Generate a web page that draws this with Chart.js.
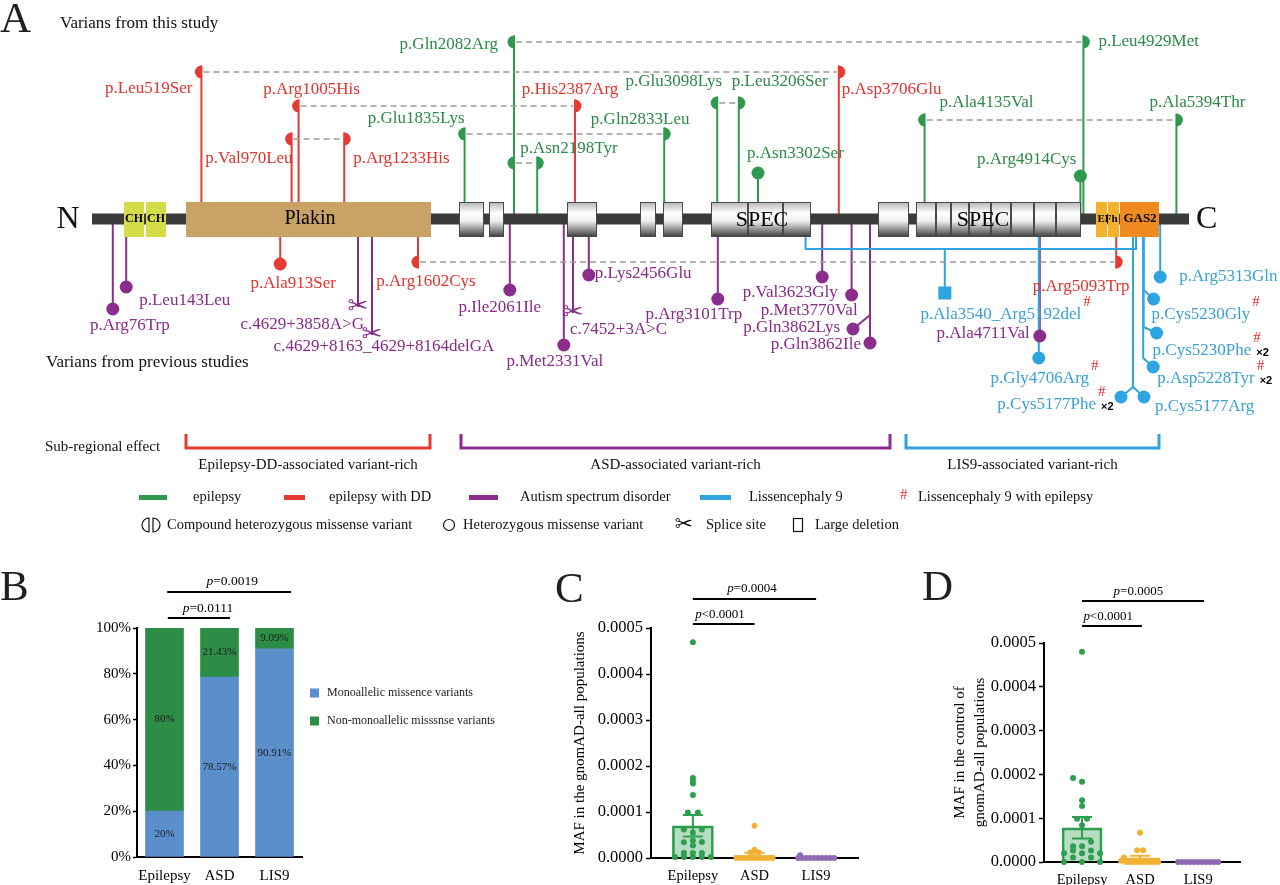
<!DOCTYPE html>
<html>
<head>
<meta charset="utf-8">
<title>MACF1 variants</title>
<script src="https://cdn.jsdelivr.net/npm/chart.js@4.4.1/dist/chart.umd.min.js"></script>
<style>
  html, body { margin:0; padding:0; background:#ffffff; }
  #wrap { position:relative; width:1280px; height:885px; overflow:hidden; background:#fff; }
  canvas { position:absolute; display:block; }
</style>
</head>
<body>
<div id="wrap">
  <canvas id="chartA" width="1280" height="545" style="left:0;top:0;"></canvas>
  <canvas id="chartB" width="520" height="340" style="left:0;top:545px;"></canvas>
  <canvas id="chartC" width="360" height="340" style="left:540px;top:545px;"></canvas>
  <canvas id="chartD" width="380" height="340" style="left:900px;top:545px;"></canvas>
</div>
<script>
// ======================= DATA =======================
// ---- Panel A: protein map (amino-acid positions) ----
const aaAxis = [-488, 5912];
const backbone = [-28, 5457];
const domainKind  = ['ch','ch','plakin','spec','spec','spec','spec','spec','spec','spec','spec','spec','spec','spec','spec','spec','spec','spec','spec','spec','efh','efh','gas2'];
const domainStart = [132,242,442,1807,1957,2347,2712,2827,3067,3252,3427,3902,4092,4192,4267,4357,4467,4567,4682,4792,4992,5052,5112];
const domainEnd   = [232,342,1667,1932,2032,2497,2792,2927,3252,3427,3567,4057,4192,4267,4357,4467,4567,4682,4792,4917,5047,5107,5307];
const domainText   = ['CH','CH','Plakin','SPEC','SPEC','EFh','GAS2'];
const domainTextAt = [182,292,1062,3322,4427,5050,5212];

const varLabels = [
 'p.Leu519Ser','p.Asp3706Glu','p.Arg1005His','p.His2387Arg','p.Val970Leu','p.Arg1233His',
 'p.Gln2082Arg','p.Leu4929Met','p.Glu1835Lys','p.Gln2833Leu','p.Asn2198Tyr','p.Glu3098Lys','p.Leu3206Ser',
 'p.Asn3302Ser','p.Ala4135Val','p.Ala5394Thr','p.Arg4914Cys',
 'p.Arg76Trp','p.Leu143Leu','p.Ala913Ser','c.4629+3858A>G','c.4629+8163_4629+8164delGA','p.Arg1602Cys',
 'p.Ile2061Ile','p.Met2331Val','c.7452+3A>C','p.Lys2456Glu','p.Arg3101Trp','p.Val3623Gly','p.Met3770Val',
 'p.Gln3862Lys','p.Gln3862Ile','p.Arg5093Trp','p.Ala4711Val','p.Gly4706Arg','p.Cys5177Phe','p.Cys5177Arg',
 'p.Asp5228Tyr','p.Cys5230Phe','p.Cys5230Gly','p.Arg5313Gln'];
const varPos = [519,3706,1005,2387,970,1233,2082,4929,1835,2833,2198,3098,3206,3302,4135,5394,4914,
 76,143,913,1302,1372,1602,2061,2331,2377,2456,3101,3623,3770,3862,3862,5093,4711,4706,5177,5177,5228,5230,5230,5313];
const varGroup = ['dd','dd','dd','dd','dd','dd','epi','epi','epi','epi','epi','epi','epi','epi','epi','epi','epi',
 'asd','asd','dd','asd','asd','dd','asd','asd','asd','asd','asd','asd','asd','asd','asd','dd','asd','lis','lis','lis','lis','lis','lis','lis'];
const varKind = ['comp','comp','comp','comp','comp','comp','comp','comp','comp','comp','comp','comp','comp','het','comp','comp','het',
 'het','het','het','splice','splice','comp','het','het','splice','het','het','het','het','het','het','comp','het','het','het','het','het','het','het','het'];
const varSide = varLabels.map((t,i)=> i < 17 ? 'up' : 'down');
const varHash   = varLabels.map((t,i)=> [34,35,37,38,39].includes(i));
const varTimes2 = varLabels.map((t,i)=> [35,37,38].includes(i));

// compound-heterozygous pairs (index of first / second allele)
const compA = [0,2,4,6,8,6,11,14,22];
const compB = [1,3,5,7,9,10,12,15,32];

const delLabels = ['p.Ala3540_Arg5192del'];
const delStart = [3540];
const delEnd = [5192];

const regionNames = ['Epilepsy-DD-associated variant-rich','ASD-associated variant-rich','LIS9-associated variant-rich'];
const regionStart = [442,1817,4042];
const regionEnd   = [1662,3962,5307];
const regionGroup = ['dd','asd','lis'];

const diseaseNames = ['epilepsy','epilepsy with DD','Autism spectrum disorder','Lissencephaly 9','Lissencephaly 9 with epilepsy'];
const diseaseKeys  = ['epi','dd','asd','lis','hash'];
const markerNames  = ['Compound heterozygous missense variant','Heterozygous missense variant','Splice site','Large deletion'];

// ---- Panel B ----
const bCategories = ['Epilepsy','ASD','LIS9'];
const bMonoallelic = [20, 78.57, 90.91];
const bNonMonoallelic = [80, 21.43, 9.09];
const bSeries = ['Monoallelic missence variants','Non-monoallelic misssnse variants'];
const bPvalues = ['=0.0111','=0.0019'];
const bYTicks = [0,20,40,60,80,100];

// ---- Panel C ----
const cGroups = ['Epilepsy','ASD','LIS9'];
const cMean = [0.0000700, 0.0000055, 0.0000006];
const cSem  = [0.0000235, 0.0000060, 0.0000005];
const cEpilepsy = [0.000469,0.000174,0.000168,0.000162,0.000137,0.000099,0.000099,0.000062,0.000062,0.000055,0.000038,0.000034,0.000035,0.000027,0.000011,0.000011,0.000011,0.000002,0.000002,0.000002,0.000002,0.000002];
const cASD = [0.000070,0.000018,0.000012,0.000012,0,0,0,0,0,0,0,0,0,0];
const cLIS9 = [0.000006,0,0,0,0,0,0,0,0,0,0];
const cPvalues = ['<0.0001','=0.0004'];
const cTitle = 'MAF in the gnomAD-all populations';
const mafTicks = [0,0.0001,0.0002,0.0003,0.0004,0.0005];

// ---- Panel D ----
const dGroups = ['Epilepsy','ASD','LIS9'];
const dMean = [0.0000780, 0.0000095, 0];
const dSem  = [0.0000245, 0.0000045, 0];
const dEpilepsy = [0.000480,0.000192,0.000183,0.000141,0.000128,0.000099,0.000099,0.000084,0.000046,0.000036,0.000036,0.000026,0.000026,0.000020,0.000020,0.000020,0.000010,0.000010,0,0,0];
const dASD = [0.000067,0.000027,0.000027,0.000010,0.000003,0,0,0,0,0,0,0,0,0];
const dLIS9 = [0,0,0,0,0,0,0,0,0,0,0];
const dPvalues = ['<0.0001','=0.0005'];
const dTitle = ['MAF in the control of','gnomAD-all populations'];

// ======================= LAYOUT / STYLE =======================
const SERIF = '"Liberation Serif", "Times New Roman", serif';
Chart.defaults.font.family = SERIF;
Chart.defaults.color = '#000';

const groupStyle = {
  epi:{stem:'#2f9a4f', text:'#2b8a47'},
  dd: {stem:'#e63b35', text:'#e2332d'},
  asd:{stem:'#8a2d8d', text:'#8a2a8a'},
  lis:{stem:'#2ea5e0', text:'#3aa0d6'}
};
const domainFill = {ch:'#d5dc48', plakin:'#c9a266', efh:'#f4b12c', gas2:'#ef8a21'};
const R = 6.5;
const LAY = { backboneY:219, domTop:202, domBot:237, delBracketY:249, delTip:293, delDx:-26, delLabelDx:56, delLabelY:315 };
const compY = [72,106,139,42,134,163,103,120,262];
const layTip = [null,null,null,null,null,null,null,null,null,null,null,null,null,173,null,null,176,
 309,287,264,307,335,null,290,345,313,275,299,277,295,329,343,null,336,358,397,397,367,333,299,277];
const layBend = varLabels.map((t,i)=>({30:315,35:387,36:387,37:358,38:327,39:290})[i] ?? null);
const layDotDx = varLabels.map((t,i)=>({30:-17,35:-12,36:11,37:10,38:13,39:10})[i] ?? 0);
const layLabelDx = [-9,3,13,-5,1,9,-16,15,0,-24,-17,5,-7,-11,15,21,-4,
 17,13,13,6,12,8,-10,-9,-3,6,-24,-32,6,-30,-9,-35,-10,1,-37,22,14,9,8,19];
const layLabelY = [89,90,90,90,159,159,45,42,119,120,149,82,82,154,103,103,160,
 326,301,284,325,347,282,308,362,330,274,315,293,311,328,345,287,334,379,405,407,379,351,315,277];
const layLabelAlign = ['right','left','center','center','right','left','right','left','right','center','left','right','left','left','left','center','right',
 'center','left','center','right','center','center','center','center','left','left','center','center','right','right','right','center','right','center','right','left','left','left','left','left'];

// ======================= HELPERS =======================
function half(ctx,x,y,r,side,color){
  ctx.beginPath();
  if (side < 0) ctx.arc(x,y,r,Math.PI/2,Math.PI*1.5); else ctx.arc(x,y,r,-Math.PI/2,Math.PI/2);
  ctx.closePath(); ctx.fillStyle=color; ctx.fill();
}
function scissors(ctx,x,y,color,size){
  ctx.save(); ctx.font = size+'px "DejaVu Sans"'; ctx.fillStyle=color; ctx.textAlign='center'; ctx.textBaseline='middle';
  ctx.fillText('\u2702',x,y); ctx.restore();
}
function drawLabel(ctx,text,x,y,align,color,hash,times2){
  ctx.font = '17px '+SERIF; ctx.fillStyle=color; ctx.textAlign=align; ctx.textBaseline='middle';
  ctx.fillText(text,x,y);
  const w = ctx.measureText(text).width;
  const right = align==='left' ? x+w : (align==='right' ? x : x+w/2);
  ctx.textAlign='left';
  if (hash){ ctx.font='15px '+SERIF; ctx.fillStyle='#e8262b'; ctx.fillText('#', right+2, y-13); }
  if (times2){ ctx.font='bold 11px "Liberation Sans", Arial'; ctx.fillStyle='#000'; ctx.fillText('\u00d72', right+5, y+2); }
}
function pText(ctx,str,cx,y,size){
  ctx.textBaseline='middle'; ctx.textAlign='left'; ctx.fillStyle='#000';
  ctx.font='italic '+size+'px '+SERIF; const w1=ctx.measureText('p').width;
  ctx.font=size+'px '+SERIF; const w2=ctx.measureText(str).width;
  const x0 = cx-(w1+w2)/2;
  ctx.font='italic '+size+'px '+SERIF; ctx.fillText('p',x0,y);
  ctx.font=size+'px '+SERIF; ctx.fillText(str,x0+w1,y);
}
function panelLetter(ctx,ch,x,y){ ctx.save(); ctx.font='43px '+SERIF; ctx.fillStyle='#231f20'; ctx.textAlign='left'; ctx.textBaseline='alphabetic'; ctx.fillText(ch,x,y); ctx.restore(); }
function markersOf(i){
  const m=[];
  compA.forEach((a,k)=>{ if(a===i) m.push({y:compY[k],kind:'halfL'}); if(compB[k]===i) m.push({y:compY[k],kind:'halfR'}); });
  if (varKind[i]==='het' || varKind[i]==='splice') m.push({y:layTip[i],kind:varKind[i]});
  return m;
}

// ======================= PANEL A =======================
const canvasA = document.getElementById('chartA');
const AA_PER_PX = (aaAxis[1]-aaAxis[0]) / canvasA.width;
const hetIdx = varKind.map((k,i)=>k==='het'?i:-1).filter(i=>i>=0);

const proteinPlugin = {
  id:'proteinMap',
  beforeDatasetsDraw(chart){
    const ctx=chart.ctx, X=v=>chart.scales.x.getPixelForValue(v), Y=v=>chart.scales.y.getPixelForValue(v);
    ctx.save();
    const base = Y(LAY.backboneY);
    ctx.lineWidth=2; ctx.lineCap='butt';
    varLabels.forEach((t,i)=>{
      const sx=X(varPos[i]);
      ctx.strokeStyle=groupStyle[varGroup[i]].stem;
      ctx.beginPath(); ctx.moveTo(sx,base);
      if (layBend[i]!=null){ ctx.lineTo(sx,Y(layBend[i])); ctx.lineTo(sx+layDotDx[i],Y(layTip[i])); }
      else {
        let end=base;
        markersOf(i).forEach(m=>{ const yy=Y(m.y), ext=m.kind.startsWith('half')?R:0;
          end = varSide[i]==='up' ? Math.min(end,yy-ext) : Math.max(end,yy+ext); });
        ctx.lineTo(sx,end);
      }
      ctx.stroke();
    });
    // large deletion bracket
    delStart.forEach((s,k)=>{
      const x0=X(s), x1=X(delEnd[k]), yb=Y(LAY.delBracketY);
      const xm=X((s+delEnd[k])/2)+LAY.delDx;
      ctx.strokeStyle=groupStyle.lis.stem; ctx.lineWidth=2;
      ctx.beginPath(); ctx.moveTo(x0,base); ctx.lineTo(x0,yb); ctx.lineTo(x1,yb); ctx.lineTo(x1,base); ctx.stroke();
      ctx.beginPath(); ctx.moveTo(xm,yb); ctx.lineTo(xm,Y(LAY.delTip)); ctx.stroke();
    });
    // dashed links between compound alleles
    ctx.setLineDash([6,4]); ctx.strokeStyle='#9b9b9b'; ctx.lineWidth=1.5;
    compA.forEach((a,k)=>{ const y=Y(compY[k]); ctx.beginPath(); ctx.moveTo(X(varPos[a])+2,y); ctx.lineTo(X(varPos[compB[k]])-2,y); ctx.stroke(); });
    ctx.setLineDash([]);
    // backbone
    ctx.fillStyle='#3b3b3b';
    ctx.fillRect(X(backbone[0]),base-5.5,X(backbone[1])-X(backbone[0]),11);
    // domains
    const top=Y(LAY.domTop), bot=Y(LAY.domBot);
    domainKind.forEach((k,j)=>{
      const x0=X(domainStart[j]), x1=X(domainEnd[j]);
      if (k==='spec'){
        const g=ctx.createLinearGradient(0,top,0,bot);
        g.addColorStop(0,'#b4b4b4'); g.addColorStop(0.32,'#ffffff'); g.addColorStop(0.55,'#eeeeee'); g.addColorStop(1,'#3a3a3a');
        ctx.fillStyle=g; ctx.fillRect(x0,top,x1-x0,bot-top);
        ctx.strokeStyle='#4a4a4a'; ctx.lineWidth=1; ctx.strokeRect(x0+0.5,top+0.5,x1-x0-1,bot-top-1);
      } else {
        ctx.fillStyle=domainFill[k]; ctx.fillRect(x0,top,x1-x0,bot-top);
      }
    });
    ctx.fillStyle='#000'; ctx.textAlign='center'; ctx.textBaseline='middle';
    const fonts={CH:'bold 12px '+SERIF, Plakin:'20px '+SERIF, SPEC:'22px '+SERIF, EFh:'bold 11px '+SERIF, GAS2:'bold 13px '+SERIF};
    domainText.forEach((t,j)=>{ ctx.font=fonts[t]; ctx.fillText(t,X(domainTextAt[j]),base+(t==='SPEC'?1:0)); });
    ctx.restore();
  },
  afterDatasetsDraw(chart){
    const ctx=chart.ctx, X=v=>chart.scales.x.getPixelForValue(v), Y=v=>chart.scales.y.getPixelForValue(v);
    ctx.save();
    compA.forEach((a,k)=>{ const y=Y(compY[k]);
      half(ctx,X(varPos[a]),y,R,-1,groupStyle[varGroup[a]].stem);
      half(ctx,X(varPos[compB[k]]),y,R,1,groupStyle[varGroup[compB[k]]].stem); });
    varKind.forEach((k,i)=>{ if(k==='splice') scissors(ctx,X(varPos[i]),Y(layTip[i]),groupStyle[varGroup[i]].stem,25); });
    varLabels.forEach((t,i)=>{ drawLabel(ctx,t,X(varPos[i])+layLabelDx[i],Y(layLabelY[i]),layLabelAlign[i],groupStyle[varGroup[i]].text,varHash[i],varTimes2[i]); });
    delLabels.forEach((t,k)=>{ const xm=X((delStart[k]+delEnd[k])/2)+LAY.delDx;
      drawLabel(ctx,t,xm+LAY.delLabelDx,Y(LAY.delLabelY),'center',groupStyle.lis.text,true,false); });
    // headings
    panelLetter(ctx,'A',0,32);
    ctx.fillStyle='#111'; ctx.textAlign='left'; ctx.textBaseline='middle';
    ctx.font='17px '+SERIF; ctx.fillText('Varians from this study',60,24);
    ctx.fillText('Varians from previous studies',46,363);
    ctx.font='32px '+SERIF; ctx.textAlign='center'; ctx.fillText('N',68,220);
    ctx.textAlign='left'; ctx.fillText('C',1196,220);
    // sub-regional effect
    ctx.font='15px '+SERIF; ctx.fillStyle='#111'; ctx.fillText('Sub-regional effect',45,447);
    regionNames.forEach((n,k)=>{
      const x0=X(regionStart[k]), x1=X(regionEnd[k]);
      ctx.strokeStyle=groupStyle[regionGroup[k]].stem; ctx.lineWidth=3;
      ctx.beginPath(); ctx.moveTo(x0,434); ctx.lineTo(x0,448); ctx.lineTo(x1,448); ctx.lineTo(x1,434); ctx.stroke();
      ctx.fillStyle='#111'; ctx.textAlign='center'; ctx.font='15px '+SERIF; ctx.fillText(n,(x0+x1)/2,465);
    });
    // legend row 1
    const lx=[139,284,469,700,900], lw=[28,21,29,31,0], tx=[193,329,520,749,918];
    ctx.textAlign='left'; ctx.font='14.5px '+SERIF;
    diseaseNames.forEach((n,k)=>{
      if (diseaseKeys[k]==='hash'){ ctx.fillStyle='#e8262b'; ctx.font='15px '+SERIF; ctx.fillText('#',lx[k],495); ctx.font='14.5px '+SERIF; }
      else { ctx.fillStyle=groupStyle[diseaseKeys[k]].stem; ctx.fillRect(lx[k],495,lw[k],5); }
      ctx.fillStyle='#111'; ctx.fillText(n,tx[k],497);
    });
    // legend row 2
    const y2=525; ctx.strokeStyle='#111'; ctx.lineWidth=1.2;
    ctx.beginPath(); ctx.arc(149,y2,7,Math.PI/2,Math.PI*1.5); ctx.closePath(); ctx.stroke();
    ctx.beginPath(); ctx.arc(153,y2,7,-Math.PI/2,Math.PI/2); ctx.closePath(); ctx.stroke();
    ctx.beginPath(); ctx.arc(449,y2,5.5,0,Math.PI*2); ctx.stroke();
    scissors(ctx,684,y2,'#111',22);
    ctx.strokeRect(793.5,y2-6.5,9,13);
    const mx=[167,463,706,815];
    ctx.fillStyle='#111'; ctx.font='14.5px '+SERIF; ctx.textAlign='left';
    markerNames.forEach((n,k)=>ctx.fillText(n,mx[k],y2));
    ctx.restore();
  }
};

new Chart(canvasA,{
  type:'scatter',
  data:{datasets:[
    {label:'Heterozygous missense variant', data:hetIdx.map(i=>({x:varPos[i]+layDotDx[i]*AA_PER_PX, y:layTip[i]})),
     pointRadius:6.5, pointHoverRadius:6.5, pointBackgroundColor:hetIdx.map(i=>groupStyle[varGroup[i]].stem), pointBorderWidth:0, clip:false},
    {label:'Large deletion', data:delStart.map((s,k)=>({x:(s+delEnd[k])/2+LAY.delDx*AA_PER_PX, y:LAY.delTip})),
     pointStyle:'rect', pointRadius:9.2, pointHoverRadius:9.2, pointBackgroundColor:groupStyle.lis.stem, pointBorderWidth:0, clip:false}
  ]},
  options:{responsive:false, animation:false, devicePixelRatio:1, events:[], layout:{padding:0, autoPadding:false},
    plugins:{legend:{display:false}, tooltip:{enabled:false}},
    scales:{x:{type:'linear',min:aaAxis[0],max:aaAxis[1],display:false}, y:{type:'linear',min:0,max:545,reverse:true,display:false}}},
  plugins:[proteinPlugin]
});

// ======================= PANEL B =======================
const LB = {top:83, right:302, width:520, height:340, bottom:312, sigLineY:[73,47], sigTextY:[63,36], sigSpan:[[0.06,1.19],[0.05,2.3]], sigTextAt:[0.79,1.23], legX:310, legY:[148,176]};
const bColors = ['#5b8fcb','#2b8d46'];
const bPlugin = {
  id:'bExtras',
  afterDatasetsDraw(chart){
    const ctx=chart.ctx; ctx.save();
    ctx.font='11px '+SERIF; ctx.fillStyle='#1c1c1c'; ctx.textAlign='center'; ctx.textBaseline='middle';
    chart.data.datasets.forEach((ds,d)=>{ chart.getDatasetMeta(d).data.forEach((bar,i)=>{
      const p=bar.getProps(['x','y','base'],true); ctx.fillText(ds.data[i]+'%',p.x,(p.y+p.base)/2); }); });
    ctx.restore();
  },
  afterDraw(chart){
    const ctx=chart.ctx, X=v=>chart.scales.x.getPixelForValue(v); ctx.save();
    ctx.strokeStyle='#000'; ctx.lineWidth=2;
    bPvalues.forEach((p,k)=>{
      ctx.beginPath(); ctx.moveTo(X(LB.sigSpan[k][0]),LB.sigLineY[k]); ctx.lineTo(X(LB.sigSpan[k][1]),LB.sigLineY[k]); ctx.stroke();
      pText(ctx,p,X(LB.sigTextAt[k]),LB.sigTextY[k],13.5);
    });
    bSeries.forEach((s,k)=>{ ctx.fillStyle=bColors[k]; ctx.fillRect(LB.legX,LB.legY[k]-4.5,9,9);
      ctx.fillStyle='#222'; ctx.font='12px '+SERIF; ctx.textAlign='left'; ctx.textBaseline='middle'; ctx.fillText(s,LB.legX+17,LB.legY[k]); });
    panelLetter(ctx,'B',0,55);
    ctx.restore();
  }
};
new Chart(document.getElementById('chartB'),{
  type:'bar',
  data:{labels:bCategories, datasets:[
    {label:bSeries[0], data:bMonoallelic, backgroundColor:bColors[0], barThickness:38},
    {label:bSeries[1], data:bNonMonoallelic, backgroundColor:bColors[1], barThickness:38}]},
  options:{responsive:false, animation:false, devicePixelRatio:1, events:[],
    layout:{padding:{left:0,top:LB.top,right:LB.width-LB.right,bottom:0}, autoPadding:false},
    plugins:{legend:{display:false}, tooltip:{enabled:false}},
    scales:{
      x:{stacked:true, grid:{display:false,drawTicks:false}, border:{display:true,color:'#000',width:2},
         ticks:{font:{size:15}, color:'#000', padding:10, autoSkip:false, maxRotation:0, minRotation:0},
         afterFit:s=>{s.height=LB.height-LB.bottom;}},
      y:{stacked:true, min:0, max:100, afterBuildTicks:s=>{s.ticks=bYTicks.map(v=>({value:v}));},
         ticks:{font:{size:15}, color:'#000', padding:2, callback:v=>v+'%'},
         grid:{drawOnChartArea:false, drawTicks:true, tickLength:4, tickColor:'#000', tickWidth:1.5},
         border:{display:true,color:'#000',width:2}, afterFit:s=>{s.width=137;}}
    }},
  plugins:[bPlugin]
});

// ======================= PANELS C & D =======================
const grpColors = ['#2e9e4f','#f2b134','#8e6bb3'];
const grpFills  = ['rgba(46,158,79,0.35)','rgba(242,177,52,0.45)','rgba(142,107,179,0.45)'];
const cJitter = [[0,0,0,0,0,-5,5,-9,9,0,0,-9,9,0,-9,0,9,-18,-9,0,9,18],
                 [0,0,-4,4,-18,-14,-10,-6,-2,2,6,10,14,18],
                 [-16,-18,-14,-10,-6,-2,2,6,10,14,18]];
const dJitter = [[0,-9,0,0,0,-5,5,0,9,-9,0,-9,9,0,-18,18,-9,9,-18,0,18],
                 [0,-3,3,-16,-19,-14,-10,-6,-2,2,6,10,14,18],
                 [-20,-16,-12,-8,-4,0,4,8,12,16,20]];
const LC = {w:360,h:340,left:111,right:318,top:83,bottom:313,xMin:-0.68,xMax:2.68,barW:41,titlePad:30,
  sigLineY:[79,54], sigTextY:[70,44], sigSpan:[[0,1],[0,2]], sigTextAt:[0.44,0.96], letter:[15,57]};
const LD = {w:380,h:340,left:144,right:340,top:98,bottom:317,xMin:-0.655,xMax:2.72,barW:40,titlePad:50,
  sigLineY:[81,56], sigTextY:[72,47], sigSpan:[[0,1.03],[0,2.1]], sigTextAt:[0.45,0.97], letter:[22,55]};

function mafChart(id,groups,means,sems,points,jitter,pvals,title,L,letter){
  const pxPerUnit=(L.right-L.left)/(L.xMax-L.xMin);
  const datasets=[{type:'bar', label:'mean', data:means.map((m,i)=>({x:i,y:m})), backgroundColor:grpFills, borderColor:grpColors,
    borderWidth:2, barThickness:L.barW, order:2}];
  points.forEach((arr,g)=>datasets.push({type:'scatter', label:groups[g], data:arr.map((v,k)=>({x:g+jitter[g][k]/pxPerUnit,y:v})),
    pointRadius:3, pointHoverRadius:3, pointBackgroundColor:grpColors[g], pointBorderWidth:0, order:1, clip:false}));
  const plug={
    id:'mafExtras'+id,
    afterDatasetsDraw(chart){
      const ctx=chart.ctx, X=v=>chart.scales.x.getPixelForValue(v), Y=v=>chart.scales.y.getPixelForValue(v);
      ctx.save(); ctx.lineWidth=2;
      means.forEach((m,g)=>{ if(!sems[g]) return; const x=X(g), yt=Y(m+sems[g]), yb=Y(Math.max(0,m-sems[g]));
        ctx.strokeStyle=grpColors[g]; ctx.beginPath(); ctx.moveTo(x,yt); ctx.lineTo(x,yb);
        ctx.moveTo(x-10,yt); ctx.lineTo(x+10,yt); ctx.moveTo(x-10,yb); ctx.lineTo(x+10,yb); ctx.stroke(); });
      ctx.restore();
    },
    afterDraw(chart){
      const ctx=chart.ctx, X=v=>chart.scales.x.getPixelForValue(v); ctx.save();
      ctx.strokeStyle='#000'; ctx.lineWidth=2;
      pvals.forEach((p,k)=>{ ctx.beginPath(); ctx.moveTo(X(L.sigSpan[k][0]),L.sigLineY[k]); ctx.lineTo(X(L.sigSpan[k][1]),L.sigLineY[k]); ctx.stroke();
        pText(ctx,p,X(L.sigTextAt[k]),L.sigTextY[k],13); });
      panelLetter(ctx,letter,L.letter[0],L.letter[1]);
      ctx.restore();
    }
  };
  return new Chart(document.getElementById(id),{
    type:'bar', data:{datasets},
    options:{responsive:false, animation:false, devicePixelRatio:1, events:[],
      layout:{padding:{left:0,top:L.top,right:L.w-L.right,bottom:0}, autoPadding:false},
      plugins:{legend:{display:false}, tooltip:{enabled:false}},
      scales:{
        x:{type:'linear', min:L.xMin, max:L.xMax, offset:false,
           afterBuildTicks:s=>{s.ticks=groups.map((g,i)=>({value:i}));},
           ticks:{callback:v=>groups[v], font:{size:14.5}, color:'#000', padding:9, autoSkip:false, maxRotation:0, minRotation:0},
           grid:{display:false, drawTicks:false}, border:{display:true,color:'#000',width:2}, afterFit:s=>{s.height=L.h-L.bottom;}},
        y:{type:'linear', min:0, max:0.0005, afterBuildTicks:s=>{s.ticks=mafTicks.map(v=>({value:v}));},
           ticks:{callback:v=>Number(v).toFixed(4), font:{size:16.5}, color:'#000', padding:3},
           grid:{drawOnChartArea:false, drawTicks:true, tickLength:5, tickColor:'#000', tickWidth:1.5},
           border:{display:true,color:'#000',width:2},
           title:{display:true, text:title, font:{size:15,lineHeight:1.35}, color:'#000', padding:{top:L.titlePad,bottom:0}},
           afterFit:s=>{s.width=L.left;}}
      }},
    plugins:[plug]
  });
}
mafChart('chartC',cGroups,cMean,cSem,[cEpilepsy,cASD,cLIS9],cJitter,cPvalues,cTitle,LC,'C');
mafChart('chartD',dGroups,dMean,dSem,[dEpilepsy,dASD,dLIS9],dJitter,dPvalues,dTitle,LD,'D');
</script>
</body>
</html>
